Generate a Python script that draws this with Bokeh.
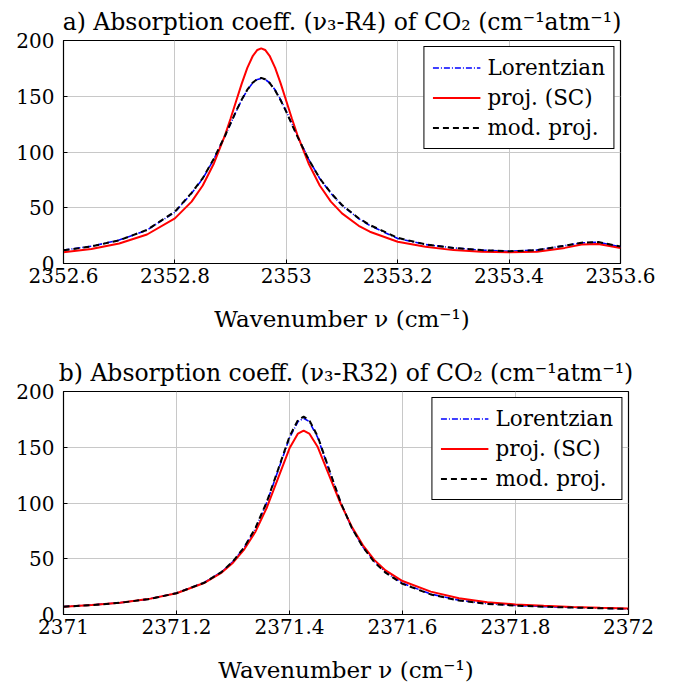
from bokeh.plotting import figure
from bokeh.layouts import column
from bokeh.models import FixedTicker, CustomJSTickFormatter, Legend, LegendItem
from bokeh.embed import file_html
from bokeh.resources import INLINE

# ---- data ----
titles = ["a) Absorption coeff. (ν\u2083-R4) of CO\u2082 (cm\u207b\u00b9atm\u207b\u00b9)",
          "b) Absorption coeff. (ν\u2083-R32) of CO\u2082 (cm\u207b\u00b9atm\u207b\u00b9)"]
xlabel = "Wavenumber ν (cm\u207b\u00b9)"
series_names = ["Lorentzian", "proj. (SC)", "mod. proj."]

x_a = [2352.60, 2352.65, 2352.70, 2352.75, 2352.80, 2352.83, 2352.85, 2352.87, 2352.89, 2352.90,
       2352.91, 2352.92, 2352.93, 2352.94, 2352.948, 2352.955, 2352.962, 2352.97, 2352.98, 2352.99,
       2353.00, 2353.01, 2353.02, 2353.04, 2353.06, 2353.08, 2353.10, 2353.13, 2353.15, 2353.20,
       2353.25, 2353.30, 2353.35, 2353.40, 2353.45, 2353.50, 2353.53, 2353.56, 2353.60]
lor_a = [12.0, 15.5, 21.0, 30.0, 46.0, 63.0, 76.0, 93.6, 114.3, 125.4,
         136.5, 146.8, 155.6, 162.1, 165.1, 166.0, 165.1, 162.1, 155.6, 146.8,
         136.5, 125.4, 114.3, 93.6, 76.2, 63.0, 52.0, 40.3, 34.0, 22.5,
         17.0, 14.0, 12.0, 11.0, 12.0, 16.0, 18.5, 19.0, 15.0]
sc_a = [10.0, 13.0, 18.0, 26.0, 40.5, 55.5, 70.0, 89.7, 115.2, 130.0,
        145.7, 161.3, 175.4, 186.3, 191.5, 193.0, 191.5, 186.3, 175.4, 161.3,
        145.7, 130.0, 115.2, 89.7, 70.0, 55.5, 45.0, 33.8, 28.5, 19.5,
        15.0, 12.0, 10.5, 10.0, 10.5, 14.0, 17.0, 17.5, 14.0]
mod_a = [11.8, 15.3, 20.8, 30.2, 46.5, 63.4, 76.5, 94.0, 114.6, 125.7,
         136.8, 147.0, 155.9, 162.4, 165.5, 166.5, 165.3, 162.0, 155.2, 146.2,
         136.0, 124.8, 113.8, 93.4, 76.4, 63.3, 52.5, 40.6, 34.5, 23.0,
         17.2, 14.0, 12.0, 11.0, 12.0, 16.0, 18.7, 19.2, 15.2]

x_b = [2371.00, 2371.05, 2371.10, 2371.15, 2371.20, 2371.25, 2371.28, 2371.30, 2371.32, 2371.34,
       2371.36, 2371.38, 2371.40, 2371.415, 2371.425, 2371.435, 2371.45, 2371.47, 2371.49, 2371.51,
       2371.53, 2371.55, 2371.57, 2371.60, 2371.65, 2371.70, 2371.75, 2371.80, 2371.85, 2371.90,
       2371.95, 2372.00]
lor_b = [7.1, 8.5, 10.6, 13.8, 19.2, 28.9, 38.2, 47.5, 60.0, 77.4,
         100.6, 129.4, 158.4, 173.0, 176.0, 173.0, 158.6, 129.6, 101.0, 78.0,
         60.6, 47.8, 37.9, 28.0, 18.4, 12.8, 9.8, 8.2, 7.1, 6.3,
         5.7, 5.1]
sc_b = [7.0, 8.5, 10.6, 13.8, 19.1, 28.5, 37.6, 46.5, 58.5, 74.5,
        96.0, 122.5, 149.0, 162.3, 165.0, 162.3, 150.2, 125.0, 100.0, 79.0,
        62.0, 49.0, 39.5, 30.0, 20.5, 14.5, 11.0, 9.0, 7.8, 6.8,
        6.0, 5.4]
mod_b = [7.0, 8.4, 10.5, 13.7, 19.1, 28.7, 38.3, 47.7, 60.4, 77.9,
         101.3, 130.3, 159.6, 174.4, 177.5, 174.4, 159.6, 130.3, 101.3, 77.9,
         60.4, 47.0, 37.5, 27.5, 18.0, 12.5, 9.5, 8.0, 7.0, 6.2,
         5.6, 5.0]

xticks_a = [2352.6, 2352.8, 2353.0, 2353.2, 2353.4, 2353.6]
xticks_b = [2371.0, 2371.2, 2371.4, 2371.6, 2371.8, 2372.0]
yticks = [0, 50, 100, 150, 200]

FONT = "DejaVu Serif"
FS = "20px"


def make_panel(title, x, lor, sc, mod, xticks, fw, top, bottom, left):
    p = figure(frame_width=fw, frame_height=223, output_backend="svg", toolbar_location=None,
               x_range=(xticks[0], xticks[-1]), y_range=(0, 200),
               min_border_left=left, min_border_right=40, min_border_top=top,
               min_border_bottom=bottom)
    p.title.text = title
    p.title.text_font = FONT
    p.title.text_font_size = "23.5px"
    p.title.text_font_style = "normal"
    p.title.text_color = "black"
    p.title.align = "center"
    p.title.standoff = 9
    p.outline_line_color = "black"
    p.outline_line_width = 1.2
    p.outline_line_alpha = 1.0
    for ax in (p.xaxis, p.yaxis):
        ax.major_label_text_font = FONT
        ax.major_label_text_font_size = FS
        ax.major_label_text_color = "black"
        ax.axis_line_color = "black"
        ax.major_tick_in = 4
        ax.major_tick_out = 0
        ax.minor_tick_line_color = None
        ax.major_tick_line_color = "black"
    p.xaxis.ticker = FixedTicker(ticks=xticks)
    p.yaxis.ticker = FixedTicker(ticks=yticks)
    p.xaxis.formatter = CustomJSTickFormatter(code="return (Math.round(tick*10)/10).toString();")
    p.xaxis.major_label_standoff = 4
    p.yaxis.major_label_standoff = 9
    p.xaxis.axis_label = xlabel
    p.xaxis.axis_label_text_font = FONT
    p.xaxis.axis_label_text_font_size = "23px"
    p.xaxis.axis_label_text_font_style = "normal"
    p.xaxis.axis_label_text_color = "black"
    p.xaxis.axis_label_standoff = 20
    p.grid.grid_line_color = "#c8c8c8"
    p.grid.grid_line_width = 1
    r1 = p.line(x, lor, line_color="blue", line_width=1.6, line_dash="6 2 1 2")
    r2 = p.line(x, sc, line_color="red", line_width=2)
    r3 = p.line(x, mod, line_color="black", line_width=2, line_dash="6 4")
    leg = Legend(items=[LegendItem(label=series_names[0], renderers=[r1]),
                        LegendItem(label=series_names[1], renderers=[r2]),
                        LegendItem(label=series_names[2], renderers=[r3])],
                 location="top_right")
    leg.label_text_font = FONT
    leg.label_text_font_size = "21.5px"
    leg.label_text_color = "black"
    leg.glyph_width = 48
    leg.glyph_height = 25
    leg.label_height = 25
    leg.label_standoff = 7
    leg.spacing = 5
    leg.padding = 8
    leg.margin = 6
    leg.border_line_color = "black"
    leg.border_line_width = 1
    leg.border_line_alpha = 1
    leg.background_fill_alpha = 1
    p.add_layout(leg, "center")
    return p


p1 = make_panel(titles[0], x_a, lor_a, sc_a, mod_a, xticks_a, 557, 40, 72, 62)
p2 = make_panel(titles[1], x_b, lor_b, sc_b, mod_b, xticks_b, 565, 56, 76, 63)

layout = column(p1, p2)
open("out.html", "w").write(file_html(layout, INLINE))
